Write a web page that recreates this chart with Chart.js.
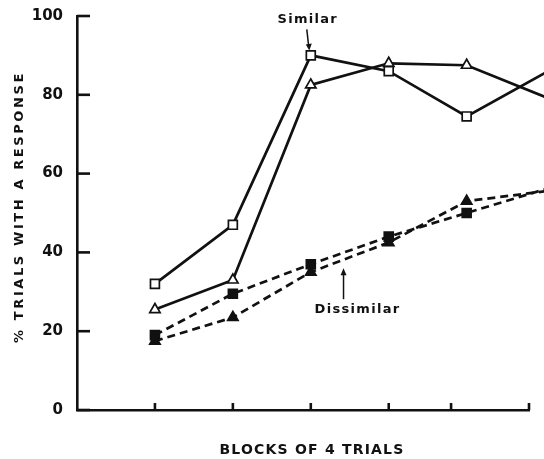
<!DOCTYPE html>
<html>
<head>
<meta charset="utf-8">
<script src="https://cdn.jsdelivr.net/npm/chart.js@4.4.1/dist/chart.umd.min.js"></script>
<style>
  html, body { margin: 0; padding: 0; background: #fff; }
  #wrap { width: 544px; height: 459px; }
</style>
</head>
<body>
<div id="wrap"><canvas id="trialsChart"></canvas></div>
<script>
// blocks of 4 trials (x position of each block)
const blocks = [1, 2, 3, 4, 5, 6];
// tick marks on the x axis, as drawn in the original figure
const xTickValues = [1, 2, 3, 4, 4.8, 5.8];
const yTickValues = [0, 20, 40, 60, 80, 100];

// % trials with a response
const similarSquares = [32, 47, 90, 86, 74.5, 85.5];
const similarTriangles = [25.5, 33, 82.5, 88, 87.5, 79.5];
const dissimilarSquares = [19, 29.5, 37, 44, 50, 56];
const dissimilarTriangles = [17.5, 23.5, 35, 42.5, 53, 55.5];

const FONT = '"DejaVu Sans", "Liberation Sans", sans-serif';

function toPoints(values) {
  return values.map(function (v, i) { return { x: blocks[i], y: v }; });
}

function series(values, style, filled, dashed) {
  return {
    data: toPoints(values),
    borderColor: '#111',
    borderWidth: 2.7,
    borderDash: dashed ? [8, 5] : [],
    pointStyle: style,
    pointRadius: style === 'rect' ? 6.3 : 6,
    pointBorderWidth: 1.7,
    pointBorderColor: '#111',
    pointBackgroundColor: filled ? '#111' : '#fff',
    tension: 0,
    clip: false
  };
}

// inner tick marks, axis titles and the two curve labels
const decorations = {
  id: 'decorations',
  afterDraw: function (chart) {
    const ctx = chart.ctx;
    const x = chart.scales.x;
    const y = chart.scales.y;
    const area = chart.chartArea;
    ctx.save();
    ctx.strokeStyle = '#111';
    ctx.lineWidth = 2.6;
    yTickValues.forEach(function (v) {
      const py = y.getPixelForValue(v);
      ctx.beginPath();
      ctx.moveTo(area.left, py);
      ctx.lineTo(area.left + 13, py);
      ctx.stroke();
    });
    xTickValues.forEach(function (v) {
      const px = x.getPixelForValue(v);
      ctx.beginPath();
      ctx.moveTo(px, area.bottom);
      ctx.lineTo(px, area.bottom - 7);
      ctx.stroke();
    });

    ctx.fillStyle = '#111';
    ctx.textAlign = 'center';
    ctx.textBaseline = 'middle';
    ctx.font = 'bold 14px ' + FONT;
    ctx.letterSpacing = '1.2px';
    ctx.fillText('BLOCKS OF 4 TRIALS', (area.left + area.right) / 2 + 9, 450);

    ctx.save();
    ctx.translate(20, (area.top + area.bottom) / 2 - 6);
    ctx.rotate(-Math.PI / 2);
    ctx.font = 'bold 13px ' + FONT;
    ctx.letterSpacing = '2.6px';
    ctx.fillText('% TRIALS WITH A RESPONSE', 0, 0);
    ctx.restore();

    // "Similar" label with arrow to the top square
    ctx.font = 'bold 13px ' + FONT;
    ctx.letterSpacing = '1.3px';
    const sx = x.getPixelForValue(3);
    const sy = y.getPixelForValue(similarSquares[2]);
    ctx.fillText('Similar', sx - 3, sy - 36);
    ctx.lineWidth = 1.5;
    ctx.beginPath();
    ctx.moveTo(sx - 4, sy - 26);
    ctx.lineTo(sx - 2, sy - 8);
    ctx.stroke();
    ctx.beginPath();
    ctx.moveTo(sx - 5, sy - 11);
    ctx.lineTo(sx - 1.5, sy - 5);
    ctx.lineTo(sx + 1, sy - 12);
    ctx.closePath();
    ctx.fill();

    // "Dissimilar" label with arrow up to the dashed curves
    const dx = x.getPixelForValue(3.42);
    const dy = y.getPixelForValue(36.5);
    ctx.fillText('Dissimilar', dx + 14, dy + 43);
    ctx.beginPath();
    ctx.moveTo(dx, dy + 33);
    ctx.lineTo(dx, dy + 6);
    ctx.stroke();
    ctx.beginPath();
    ctx.moveTo(dx - 3, dy + 9);
    ctx.lineTo(dx, dy + 2);
    ctx.lineTo(dx + 3, dy + 9);
    ctx.closePath();
    ctx.fill();
    ctx.restore();
  }
};

const ctx = document.getElementById('trialsChart').getContext('2d');
new Chart(ctx, {
  type: 'line',
  data: {
    datasets: [
      series(similarSquares, 'rect', false, false),
      series(similarTriangles, 'triangle', false, false),
      series(dissimilarSquares, 'rect', true, true),
      series(dissimilarTriangles, 'triangle', true, true)
    ]
  },
  options: {
    responsive: true,
    maintainAspectRatio: false,
    animation: false,
    layout: { padding: { top: 16, right: 15, left: 0, bottom: 0 } },
    plugins: {
      legend: { display: false },
      tooltip: { enabled: false }
    },
    scales: {
      x: {
        type: 'linear',
        min: 0,
        max: 5.8,
        grid: { display: false },
        border: { display: true, color: '#111', width: 2.6 },
        ticks: { display: false },
        afterFit: function (scale) { scale.height = 49; }
      },
      y: {
        min: 0,
        max: 100,
        grid: { display: false },
        border: { display: true, color: '#111', width: 2.6 },
        ticks: {
          stepSize: 20,
          padding: 6,
          color: '#111',
          font: { family: FONT, size: 15, weight: 'bold' }
        },
        afterFit: function (scale) { scale.width = 77; }
      }
    }
  },
  plugins: [decorations]
});
</script>
</body>
</html>
